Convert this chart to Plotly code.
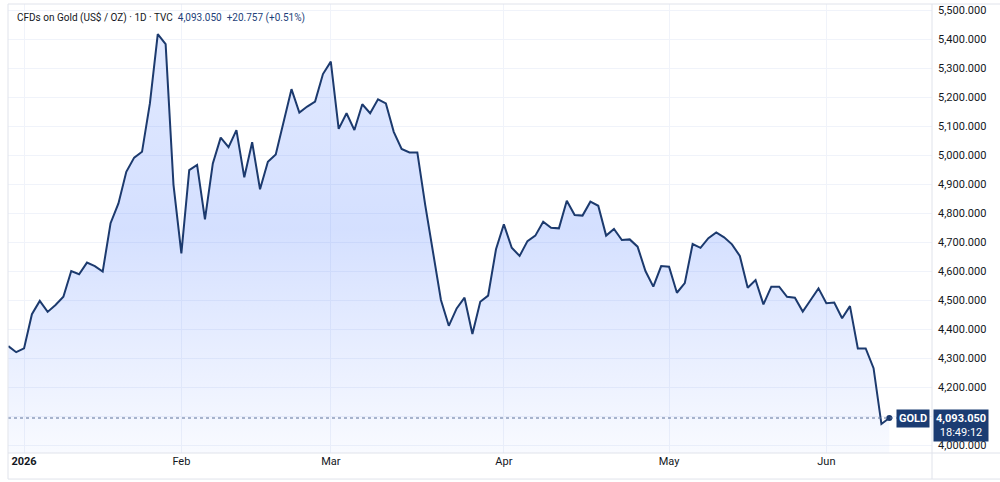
import pandas as pd
import plotly.graph_objects as go

# ---- data -------------------------------------------------------------
holidays = ["2026-01-01", "2026-01-19", "2026-02-16", "2026-04-03", "2026-05-25"]
dates = [d.strftime("%Y-%m-%d") for d in pd.bdate_range("2025-12-30", "2026-06-11")
         if d.strftime("%Y-%m-%d") not in holidays]

close_dec = [4341, 4320]
close_jan = [4333, 4451, 4497, 4459, 4483, 4511, 4600, 4589, 4629, 4617,
             4598, 4765, 4833, 4942, 4991, 5011, 5178, 5417, 5382, 4897]
close_feb = [4661, 4948, 4966, 4778, 4971, 5060, 5027, 5086, 4923, 5044,
             4882, 4977, 5002, 5115, 5227, 5146, 5167, 5184, 5279]
close_mar = [5322, 5090, 5144, 5086, 5175, 5144, 5192, 5178, 5080, 5021,
             5009, 5009, 4828, 4666, 4500, 4411, 4471, 4508, 4383, 4494,
             4515, 4675]
close_apr = [4761, 4680, 4652, 4703, 4722, 4770, 4749, 4747, 4842, 4793,
             4791, 4839, 4825, 4722, 4745, 4707, 4709, 4684, 4600, 4546,
             4617]
close_may = [4615, 4525, 4558, 4693, 4680, 4713, 4733, 4716, 4692, 4652,
             4542, 4569, 4485, 4546, 4546, 4511, 4508, 4460, 4500, 4540]
close_jun = [4489, 4491, 4437, 4479, 4333, 4333, 4265, 4072.293, 4093.05]

values = close_dec + close_jan + close_feb + close_mar + close_apr + close_may + close_jun

tick_dates = ["2026-01-02", "2026-02-02", "2026-03-02", "2026-04-01", "2026-05-01", "2026-06-01"]
tick_text = ["<b>2026</b>", "Feb", "Mar", "Apr", "May", "Jun"]

price_ticks = [4000, 4100, 4200, 4300, 4400, 4500, 4600, 4700,
               4800, 4900, 5000, 5100, 5200, 5300, 5400, 5500]
# 4,100 label is hidden behind the last-price box in the reference
price_text = ["" if v == 4100 else f"{v:,.3f}" for v in price_ticks]

symbol = "GOLD"
last_price = "4,093.050"
countdown = "18:49:12"
header = "CFDs on Gold (US$ / OZ) · 1D · TVC"
header_vals = "4,093.050  +20.757 (+0.51%)"

# ---- styling -----------------------------------------------------------
LINE = "#1c3a6e"
NAVY = "#1b3c72"
GRID = "#f0f3fa"
BORDER = "#e0e3eb"
TXT = "#131722"
FONT = "Roboto"

fig = go.Figure()
fig.add_trace(go.Scatter(
    x=dates, y=values, mode="lines",
    line=dict(color=LINE, width=2),
    fill="tozeroy",
    fillgradient=dict(type="vertical", start=3972, stop=5520,
                      colorscale=[[0, "rgba(41,98,255,0.03)"],
                                  [0.5, "rgba(41,98,255,0.20)"],
                                  [1, "rgba(41,98,255,0.13)"]]),
    hoverinfo="skip", showlegend=False))
fig.add_trace(go.Scatter(
    x=[dates[-1]], y=[values[-1]], mode="markers",
    marker=dict(color=LINE, size=6), hoverinfo="skip", showlegend=False))

fig.update_layout(
    width=1000, height=482,
    margin=dict(l=8, r=68, t=4, b=29),
    paper_bgcolor="white", plot_bgcolor="white",
    font=dict(family=FONT, size=11, color=TXT),
    xaxis=dict(type="category", categoryorder="array", categoryarray=dates,
               range=[-0.04, 117.43], tickmode="array",
               tickvals=tick_dates, ticktext=tick_text,
               showgrid=True, gridcolor=GRID, gridwidth=1,
               showline=False, zeroline=False, ticks="",
               tickfont=dict(size=11, color=TXT)),
    yaxis=dict(range=[3972.4, 5520.7], side="right",
               tickmode="array", tickvals=price_ticks, ticktext=price_text,
               showgrid=True, gridcolor=GRID, gridwidth=1,
               zeroline=False, showline=False, ticks="",
               ticklabelstandoff=5,
               tickfont=dict(size=11, color=TXT)),
)

shapes = [
    dict(type="line", xref="paper", yref="y", x0=0, x1=1,
         y0=values[-1], y1=values[-1],
         line=dict(color="#5b7099", width=1, dash="dot")),
    # pane borders
    dict(type="line", xref="paper", yref="paper", x0=0, x1=1.0736, y0=0, y1=0,
         line=dict(color=BORDER, width=1)),
    dict(type="line", xref="paper", yref="paper", x0=1, x1=1, y0=1, y1=-0.058,
         line=dict(color=BORDER, width=1)),
    dict(type="line", xref="paper", yref="paper", x0=0, x1=1.0736, y0=1, y1=1,
         line=dict(color=BORDER, width=1)),
    dict(type="line", xref="paper", yref="paper", x0=0, x1=1.0736, y0=-0.058, y1=-0.058,
         line=dict(color=BORDER, width=1)),
    dict(type="line", xref="paper", yref="paper", x0=0, x1=0, y0=1, y1=-0.058,
         line=dict(color=BORDER, width=1)),
]
fig.update_layout(shapes=shapes)

fig.add_annotation(
    xref="paper", yref="paper", x=7/924, y=1 - 13/449,
    xanchor="left", yanchor="middle", showarrow=False,
    text=header + "  <span style='color:#1e3f7a'>" + header_vals + "</span>",
    font=dict(family=FONT, size=10, color=TXT))

fig.add_annotation(
    xref="paper", yref="y", x=922/924, y=values[-1],
    xanchor="right", yanchor="middle", showarrow=False,
    text="<b>" + symbol + "</b>", bgcolor=NAVY, borderpad=2,
    font=dict(family=FONT, size=11, color="white"))

fig.add_annotation(
    xref="paper", yref="y", x=925/924, y=values[-1],
    xanchor="left", yanchor="top", yshift=9, showarrow=False,
    text="<b>" + last_price + "</b><br>" + countdown, align="center",
    bgcolor=NAVY, borderpad=2,
    font=dict(family=FONT, size=11, color="white"))

fig.write_html("out.html")
